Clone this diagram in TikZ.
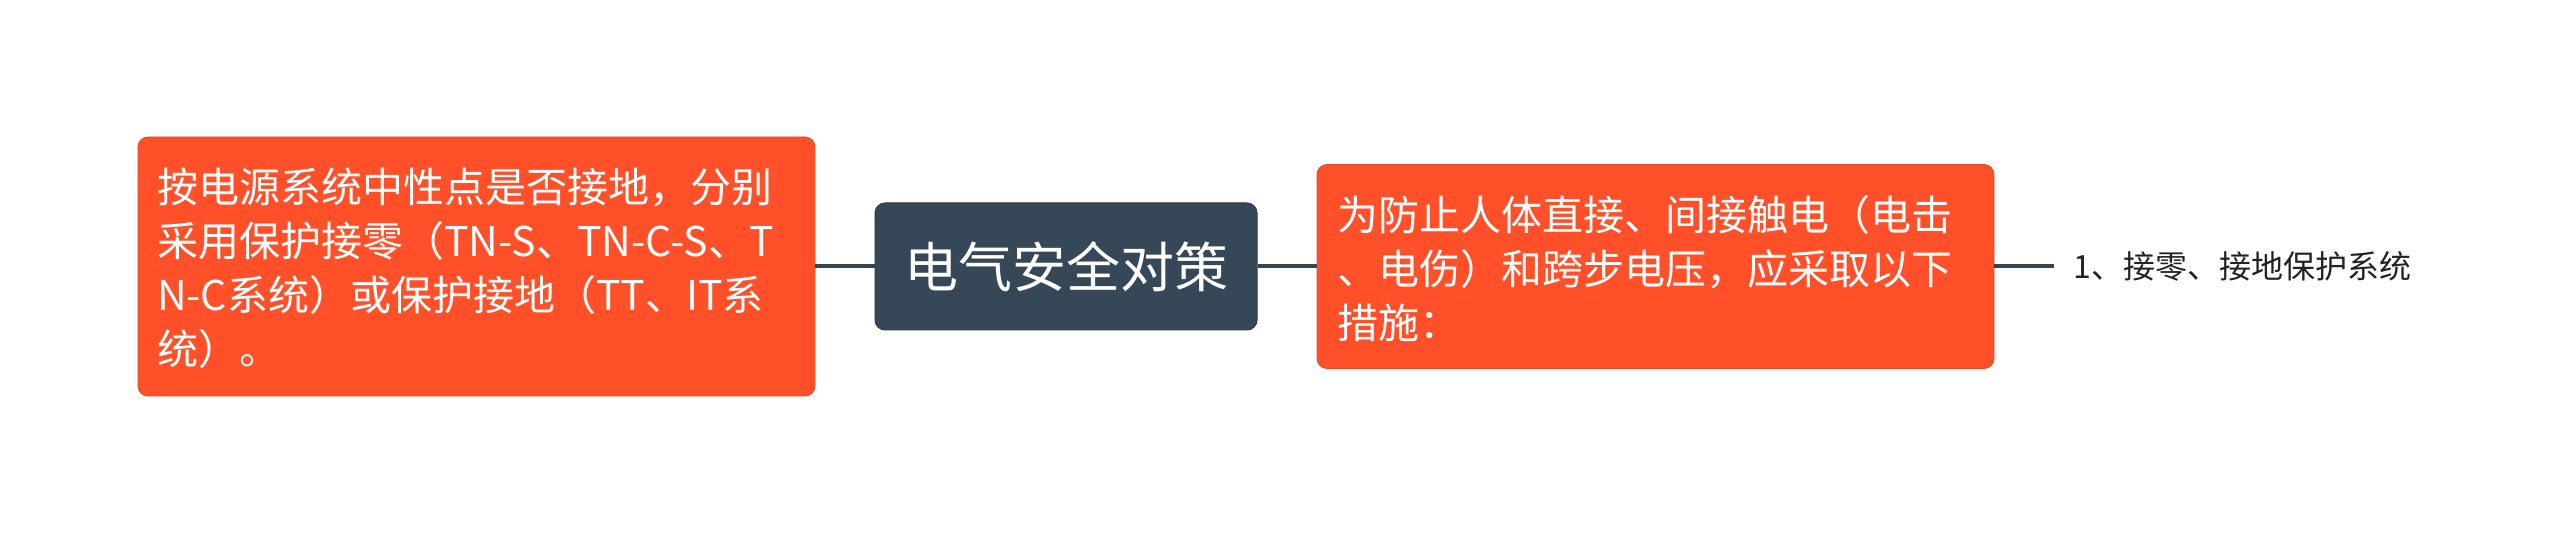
\documentclass[tikz,border=0pt]{standalone}
\usepackage{fontspec}
\setmainfont{Noto Sans CJK SC}
\definecolor{boxorange}{HTML}{FF5029}
\definecolor{boxdark}{HTML}{364858}
\definecolor{linedark}{HTML}{344452}
\definecolor{txtdark}{HTML}{222222}
\begin{document}
\begin{tikzpicture}[x=0.5pt,y=-0.5pt,
  orangebox/.style={rectangle, rounded corners=5pt, fill=boxorange, draw=boxorange!90!black, line width=0.4pt, inner sep=0pt},
  darkbox/.style={rectangle, rounded corners=5pt, fill=boxdark, draw=boxdark!80!black, line width=0.5pt, inner sep=0pt},
  boxtext/.style={text=white, align=left, inner sep=0pt, font=\fontsize{20.5pt}{27pt}\selectfont},
  roottext/.style={text=white, inner sep=0pt, font=\fontsize{27pt}{32pt}\selectfont},
  childtext/.style={text=txtdark, inner xsep=9.5pt, inner ysep=2pt, anchor=west, font=\fontsize{16pt}{20pt}\selectfont},
  link/.style={draw=linedark, line width=2pt}
]
\useasboundingbox (0,0) rectangle (2560,533);
% boxes
\node[orangebox, minimum width=338.5pt, minimum height=129.5pt] (L) at (476.5,266.5) {};
\node[boxtext, anchor=west] (Lt) at ([xshift=9.5pt,yshift=-1pt]L.west) {按电源系统中性点是否接地，分别\\采用保护接零（TN-S、TN-C-S、T\\N-C系统）或保护接地（TT、IT系\\统）。};
\node[darkbox, minimum width=191pt, minimum height=63.5pt] (C) at (1066,266.5) {};
\node[roottext] (Ct) at (C.center) {电气安全对策};
\node[orangebox, minimum width=338.5pt, minimum height=102pt] (R) at (1655.5,266.5) {};
\node[boxtext, anchor=west] (Rt) at ([xshift=10pt,yshift=-1pt]R.west) {为防止人体直接、间接触电（电击\\、电伤）和跨步电压，应采取以下\\措施：};
\node[childtext] (K) at (2054,266.5) {1、接零、接地保护系统};
% connectors
\draw[link] (L.east) -- (C.west);
\draw[link] (C.east) -- (R.west);
\draw[link] (R.east) -- (K.west);
\end{tikzpicture}
\end{document}
